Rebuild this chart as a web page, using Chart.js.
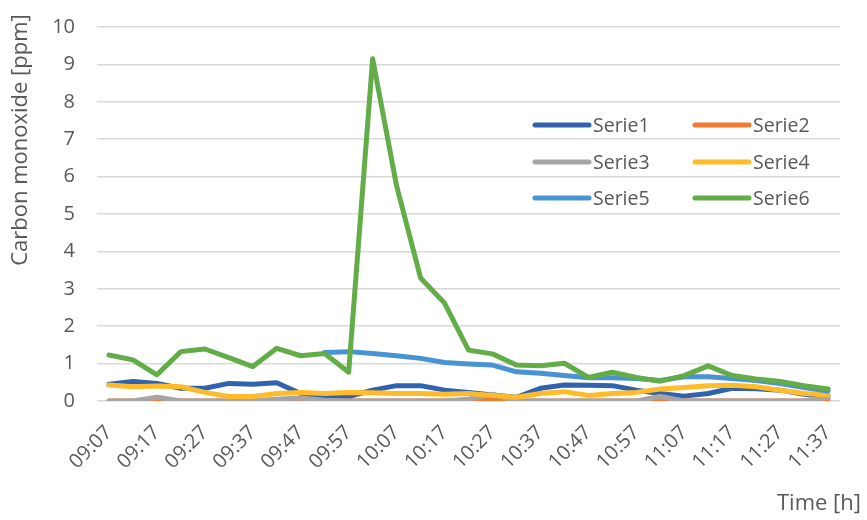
<!DOCTYPE html>
<html>
<head>
<meta charset="utf-8">
<script src="https://cdn.jsdelivr.net/npm/chart.js@4.4.1/dist/chart.umd.min.js"></script>
<style>
  html, body { margin: 0; padding: 0; background: #ffffff; }
  #wrap { width: 867px; height: 520px; }
</style>
</head>
<body>
<div id="wrap"><canvas id="c" width="867" height="520"></canvas></div>
<script>
// ---- Data ----
const times = ['09:07','09:12','09:17','09:22','09:27','09:32','09:37','09:42','09:47','09:52',
               '09:57','10:02','10:07','10:12','10:17','10:22','10:27','10:32','10:37','10:42',
               '10:47','10:52','10:57','11:02','11:07','11:12','11:17','11:22','11:27','11:32','11:37'];

const serie1 = [0.45,0.52,0.47,0.34,0.34,0.47,0.45,0.49,0.20,0.09,0.12,0.29,0.41,0.41,0.29,0.23,0.16,0.10,0.34,0.43,0.42,0.41,0.29,0.20,0.13,0.20,0.34,0.33,0.29,0.18,0.13];
const serie2 = [0,0,0.03,0,0,0,0,0,0.03,0,0,0,0,0,0,0,0.07,0,0,0,0,0,0,0.03,0,0,0,0,0,0,0.03];
const serie3 = [0,0,0.10,0,0,0,0,0.05,0.08,0.02,0,0,0,0,0,0.05,0.18,0,0,0,0,0,0,0.12,0,0,0,0,0,0,0.10];
const serie4 = [0.43,0.38,0.40,0.38,0.23,0.12,0.12,0.20,0.23,0.20,0.23,0.22,0.20,0.20,0.18,0.20,0.15,0.10,0.20,0.25,0.15,0.20,0.23,0.32,0.36,0.41,0.42,0.38,0.29,0.20,0.16];
const serie5 = [null,null,null,null,null,null,null,null,null,1.30,1.32,1.27,1.21,1.14,1.03,0.99,0.96,0.78,0.74,0.68,0.62,0.62,0.60,0.55,0.65,0.65,0.60,0.55,0.47,0.36,0.27];
const serie6 = [1.23,1.10,0.70,1.32,1.39,1.16,0.92,1.41,1.21,1.27,0.77,9.15,5.75,3.29,2.62,1.36,1.26,0.96,0.94,1.01,0.63,0.77,0.63,0.53,0.68,0.94,0.68,0.59,0.52,0.41,0.32];

const seriesNames = ['Serie1','Serie2','Serie3','Serie4','Serie5','Serie6'];
const seriesData = [serie1, serie2, serie3, serie4, serie5, serie6];
const seriesColors = ['#2F63AE','#EF7A30','#A5A5A5','#FFBB2A','#4A93D3','#62AD47'];

const yTitle = 'Carbon monoxide [ppm]';
const xTitle = 'Time [h]';

// ---- Styling ----
const FONT = "'Open Sans', 'Noto Sans', sans-serif";
const TEXT_COLOR = '#595959';

const datasets = seriesNames.map((name, i) => ({
  label: name,
  data: seriesData[i],
  borderColor: seriesColors[i],
  backgroundColor: seriesColors[i],
  borderWidth: 5,
  pointRadius: 0,
  tension: 0,
  fill: false,
  borderJoinStyle: 'round',
  borderCapStyle: 'round',
  order: seriesNames.length - 1 - i
}));

const decorPlugin = {
  id: 'decor',
  afterDraw(chart) {
    const ctx = chart.ctx;
    ctx.save();
    ctx.fillStyle = TEXT_COLOR;
    ctx.font = "22px " + FONT;
    ctx.translate(21, 140);
    ctx.rotate(-Math.PI / 2);
    ctx.textAlign = 'center';
    ctx.textBaseline = 'middle';
    ctx.fillText(yTitle, 0, 0);
    ctx.restore();

    ctx.save();
    ctx.fillStyle = TEXT_COLOR;
    ctx.font = "22px " + FONT;
    ctx.textAlign = 'right';
    ctx.textBaseline = 'middle';
    ctx.fillText(xTitle, 861, 504);
    ctx.restore();

    // Legend (2 columns x 3 rows)
    ctx.save();
    ctx.font = "19.5px " + FONT;
    ctx.textAlign = 'left';
    ctx.textBaseline = 'middle';
    const colX = [535, 695];
    const rowY = [125, 162, 198];
    seriesNames.forEach((name, i) => {
      const cx = colX[i % 2];
      const cy = rowY[Math.floor(i / 2)];
      ctx.strokeStyle = seriesColors[i];
      ctx.lineWidth = 5;
      ctx.lineCap = 'round';
      ctx.beginPath();
      ctx.moveTo(cx, cy);
      ctx.lineTo(cx + 54, cy);
      ctx.stroke();
      ctx.fillStyle = TEXT_COLOR;
      ctx.fillText(name, cx + 58, cy + 1);
    });
    ctx.restore();
  }
};

new Chart(document.getElementById('c'), {
  type: 'line',
  data: { labels: times, datasets },
  options: {
    responsive: false,
    animation: false,
    devicePixelRatio: 1,
    layout: { padding: { left: 0, right: 27, top: 27, bottom: 0 } },
    plugins: { legend: { display: false }, tooltip: { enabled: false } },
    scales: {
      x: {
        offset: true,
        grid: { display: false, drawTicks: false },
        border: { display: false },
        ticks: {
          autoSkip: false,
          minRotation: 45,
          maxRotation: 45,
          padding: 20,
          color: TEXT_COLOR,
          font: { family: FONT, size: 20 },
          callback: (v, i) => (i % 2 === 0 ? times[i] : '')
        },
        afterFit: (s) => { s.height = 119; s.paddingLeft = 0; s.paddingRight = 0; }
      },
      y: {
        min: 0,
        max: 10,
        ticks: {
          stepSize: 1,
          padding: 22,
          color: TEXT_COLOR,
          font: { family: FONT, size: 20 }
        },
        grid: { color: '#D9D9D9', lineWidth: 1.5, drawTicks: false },
        border: { display: false },
        afterFit: (s) => { s.width = 97; s.paddingTop = 0; s.paddingBottom = 0; }
      }
    }
  },
  plugins: [decorPlugin]
});
</script>
</body>
</html>
